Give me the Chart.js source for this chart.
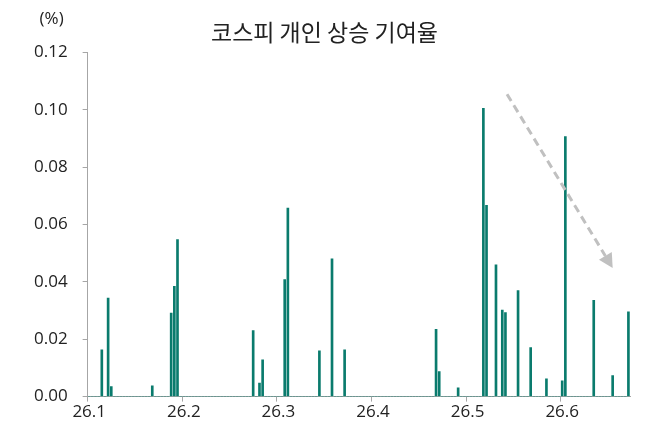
<!DOCTYPE html>
<html>
<head>
<meta charset="utf-8">
<script src="https://cdn.jsdelivr.net/npm/chart.js@4.4.1/dist/chart.umd.min.js"></script>
<style>
  html, body { margin: 0; padding: 0; background: #fff; }
  #wrap { width: 657px; height: 433px; }
</style>
</head>
<body>
<div id="wrap"><canvas id="kospi"></canvas></div>
<script>
// trading day index (from 26.1 start) and contribution (%)
var barDays = [4, 6, 7, 20, 26, 27, 28, 52, 54, 55, 62, 63, 73, 77, 81,
  110, 111, 117, 125, 126, 129, 131, 132, 136, 140, 145, 150, 151, 160, 166, 171];
var barValues = [0.0163, 0.0344, 0.0035, 0.0038, 0.0291, 0.0385, 0.0548, 0.0230, 0.0047, 0.0128, 0.0408, 0.0658, 0.0160, 0.0481, 0.0163,
  0.0235, 0.0087, 0.0031, 0.1006, 0.0667, 0.0460, 0.0302, 0.0293, 0.0370, 0.0171, 0.0062, 0.0055, 0.0907, 0.0336, 0.0073, 0.0296];
var tickLabels = ["26.1", "26.2", "26.3", "26.4", "26.5", "26.6"];
var daysPerTick = 30;
var totalDays = 172;
var yTicks = [0, 0.02, 0.04, 0.06, 0.08, 0.10, 0.12];

// trend arrow, in (day index, value)
var arrowFrom = [132.5, 0.1055];
var arrowTo = [166.0, 0.0449];

var labels = [];
var values = [];
for (var i = 0; i < totalDays; i++) {
  labels.push(String(i));
  values.push(0);
}
barDays.forEach(function (d, k) { values[d] = barValues[k]; });

var axisColor = "#a6a6a6";
var tickFont = { family: "'Open Sans'", size: 17 };

var extras = {
  id: "extras",
  afterDatasetsDraw: function (chart) {
    var ctx = chart.ctx;
    var xs = chart.scales.x, ys = chart.scales.y;
    var x1 = xs.getPixelForValue(arrowFrom[0]), y1 = ys.getPixelForValue(arrowFrom[1]);
    var x2 = xs.getPixelForValue(arrowTo[0]), y2 = ys.getPixelForValue(arrowTo[1]);
    var ang = Math.atan2(y2 - y1, x2 - x1);
    var head = 14, half = 7.5;
    var bx = x2 - head * Math.cos(ang), by = y2 - head * Math.sin(ang);
    ctx.save();
    ctx.strokeStyle = "#c0c0c0";
    ctx.fillStyle = "#c0c0c0";
    ctx.lineWidth = 3;
    ctx.setLineDash([8, 5]);
    ctx.beginPath();
    ctx.moveTo(x1, y1);
    ctx.lineTo(bx, by);
    ctx.stroke();
    ctx.setLineDash([]);
    ctx.beginPath();
    ctx.moveTo(x2, y2);
    ctx.lineTo(bx + half * Math.sin(ang), by - half * Math.cos(ang));
    ctx.lineTo(bx - half * Math.sin(ang), by + half * Math.cos(ang));
    ctx.closePath();
    ctx.fill();

    // unit label
    ctx.fillStyle = "#222";
    ctx.font = "17px 'Open Sans'";
    ctx.textAlign = "center";
    ctx.textBaseline = "middle";
    ctx.fillText("(%)", chart.chartArea.left - 36, chart.chartArea.top - 33);
    ctx.restore();
  }
};

new Chart("kospi", {
  type: "bar",
  data: {
    labels: labels,
    datasets: [{
      data: values,
      backgroundColor: "#0a7b6d",
      barThickness: 2
    }]
  },
  options: {
    responsive: true,
    maintainAspectRatio: false,
    animation: false,
    layout: { padding: { left: 19, right: 27, top: 0, bottom: 11 } },
    plugins: {
      legend: { display: false },
      tooltip: { enabled: false },
      title: {
        display: true,
        text: "코스피 개인 상승 기여율",
        color: "#222",
        font: { family: "'Noto Sans CJK KR'", size: 23, weight: "normal" },
        padding: { top: 18, bottom: 7 }
      }
    },
    scales: {
      x: {
        grid: {
          drawOnChartArea: false,
          tickLength: 5,
          color: function (c) { return c.index % daysPerTick === 0 ? axisColor : "transparent"; }
        },
        border: { color: axisColor },
        ticks: {
          autoSkip: false,
          maxRotation: 0,
          padding: 0,
          color: "#222",
          font: tickFont,
          callback: function (v, i) { return i % daysPerTick === 0 ? tickLabels[i / daysPerTick] : ""; }
        }
      },
      y: {
        min: 0,
        max: 0.12,
        afterBuildTicks: function (s) { s.ticks = yTicks.map(function (v) { return { value: v }; }); },
        grid: { drawOnChartArea: false, tickLength: 5, color: axisColor },
        border: { color: axisColor },
        ticks: {
          padding: 15,
          color: "#222",
          font: tickFont,
          callback: function (v) { return v.toFixed(2); }
        }
      }
    }
  },
  plugins: [extras]
});
</script>
</body>
</html>
